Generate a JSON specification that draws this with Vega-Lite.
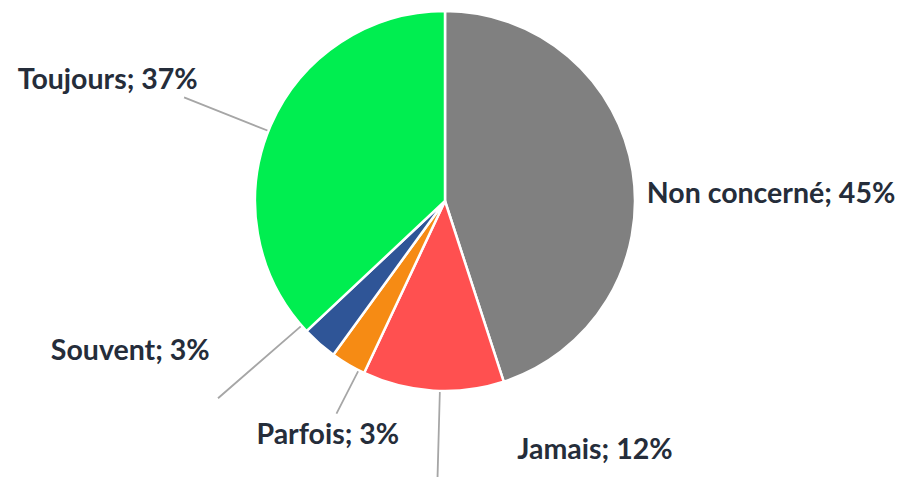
{
  "$schema": "https://vega.github.io/schema/vega-lite/v6.json",
  "width": 890,
  "height": 402,
  "autosize": {"type": "none"},
  "padding": {"left": 0, "top": 0, "right": 15, "bottom": 75},
  "background": "white",
  "config": {"view": {"stroke": null}},
  "data": {
    "values": [
      {"categorie": "Non concerné", "valeur": 45, "rang": 1},
      {"categorie": "Jamais", "valeur": 12, "rang": 2},
      {"categorie": "Parfois", "valeur": 3, "rang": 3},
      {"categorie": "Souvent", "valeur": 3, "rang": 4},
      {"categorie": "Toujours", "valeur": 37, "rang": 5}
    ]
  },
  "transform": [
    {"calculate": "datum.categorie + '; ' + datum.valeur + '%'", "as": "etiquette"},
    {"stack": "valeur", "groupby": [], "sort": [{"field": "rang", "order": "ascending"}], "as": ["debut", "fin"]},
    {"calculate": "(datum.debut + datum.fin) / 2", "as": "milieu"}
  ],
  "layer": [
    {
      "transform": [{"filter": "datum.categorie === 'Toujours'"}, {"calculate": "datum.milieu - 0.5", "as": "a1"}, {"calculate": "datum.a1 + 0.02", "as": "a2"}],
      "mark": {"type": "arc", "innerRadius": 185, "outerRadius": 280, "fill": null, "stroke": "#A6A6A6", "strokeWidth": 1.5},
      "encoding": {"theta": {"field": "a1", "type": "quantitative", "scale": {"domain": [0, 100]}}, "theta2": {"field": "a2"}}
    },
    {
      "transform": [{"filter": "datum.categorie === 'Souvent'"}, {"calculate": "datum.milieu + 2.1", "as": "a1"}, {"calculate": "datum.a1 + 0.02", "as": "a2"}],
      "mark": {"type": "arc", "innerRadius": 185, "outerRadius": 300, "fill": null, "stroke": "#A6A6A6", "strokeWidth": 1.5},
      "encoding": {"theta": {"field": "a1", "type": "quantitative", "scale": {"domain": [0, 100]}}, "theta2": {"field": "a2"}}
    },
    {
      "transform": [{"filter": "datum.categorie === 'Parfois'"}, {"calculate": "datum.milieu - 1", "as": "a1"}, {"calculate": "datum.a1 + 0.02", "as": "a2"}],
      "mark": {"type": "arc", "innerRadius": 185, "outerRadius": 238, "fill": null, "stroke": "#A6A6A6", "strokeWidth": 1.5},
      "encoding": {"theta": {"field": "a1", "type": "quantitative", "scale": {"domain": [0, 100]}}, "theta2": {"field": "a2"}}
    },
    {
      "transform": [{"filter": "datum.categorie === 'Jamais'"}, {"calculate": "datum.milieu - 0.58", "as": "a1"}, {"calculate": "datum.a1 + 0.02", "as": "a2"}],
      "mark": {"type": "arc", "innerRadius": 185, "outerRadius": 276, "fill": null, "stroke": "#A6A6A6", "strokeWidth": 1.5},
      "encoding": {"theta": {"field": "a1", "type": "quantitative", "scale": {"domain": [0, 100]}}, "theta2": {"field": "a2"}}
    },
    {
      "mark": {"type": "arc", "outerRadius": 190, "stroke": "white", "strokeWidth": 2.5},
      "encoding": {
        "theta": {"field": "debut", "type": "quantitative", "scale": {"domain": [0, 100]}},
        "theta2": {"field": "fin"},
        "color": {
          "field": "categorie",
          "type": "nominal",
          "scale": {
            "domain": ["Non concerné", "Jamais", "Parfois", "Souvent", "Toujours"],
            "range": ["#808080", "#FF5050", "#F68B14", "#2F5597", "#00EE50"]
          },
          "legend": null
        }
      }
    },
    {
      "transform": [{"filter": "datum.categorie === 'Non concerné'"}],
      "mark": {"type": "text", "radius": 240, "dx": 89, "dy": 31, "font": "Lato", "fontWeight": "bold", "fontSize": 28.5, "color": "#252D3A", "baseline": "middle", "align": "center"},
      "encoding": {"theta": {"field": "milieu", "type": "quantitative", "scale": {"domain": [0, 100]}}, "text": {"field": "etiquette"}}
    },
    {
      "transform": [{"filter": "datum.categorie === 'Jamais'"}],
      "mark": {"type": "text", "radius": 240, "dx": 165, "dy": 9, "font": "Lato", "fontWeight": "bold", "fontSize": 28.5, "color": "#252D3A", "baseline": "middle", "align": "center"},
      "encoding": {"theta": {"field": "milieu", "type": "quantitative", "scale": {"domain": [0, 100]}}, "text": {"field": "etiquette"}}
    },
    {
      "transform": [{"filter": "datum.categorie === 'Parfois'"}],
      "mark": {"type": "text", "radius": 240, "dx": 5, "dy": 27, "font": "Lato", "fontWeight": "bold", "fontSize": 28.5, "color": "#252D3A", "baseline": "middle", "align": "center"},
      "encoding": {"theta": {"field": "milieu", "type": "quantitative", "scale": {"domain": [0, 100]}}, "text": {"field": "etiquette"}}
    },
    {
      "transform": [{"filter": "datum.categorie === 'Souvent'"}],
      "mark": {"type": "text", "radius": 240, "dx": -156, "dy": -30, "font": "Lato", "fontWeight": "bold", "fontSize": 28.5, "color": "#252D3A", "baseline": "middle", "align": "center"},
      "encoding": {"theta": {"field": "milieu", "type": "quantitative", "scale": {"domain": [0, 100]}}, "text": {"field": "etiquette"}}
    },
    {
      "transform": [{"filter": "datum.categorie === 'Toujours'"}],
      "mark": {"type": "text", "radius": 240, "dx": -117, "dy": -26, "font": "Lato", "fontWeight": "bold", "fontSize": 28.5, "color": "#252D3A", "baseline": "middle", "align": "center"},
      "encoding": {"theta": {"field": "milieu", "type": "quantitative", "scale": {"domain": [0, 100]}}, "text": {"field": "etiquette"}}
    }
  ]
}
